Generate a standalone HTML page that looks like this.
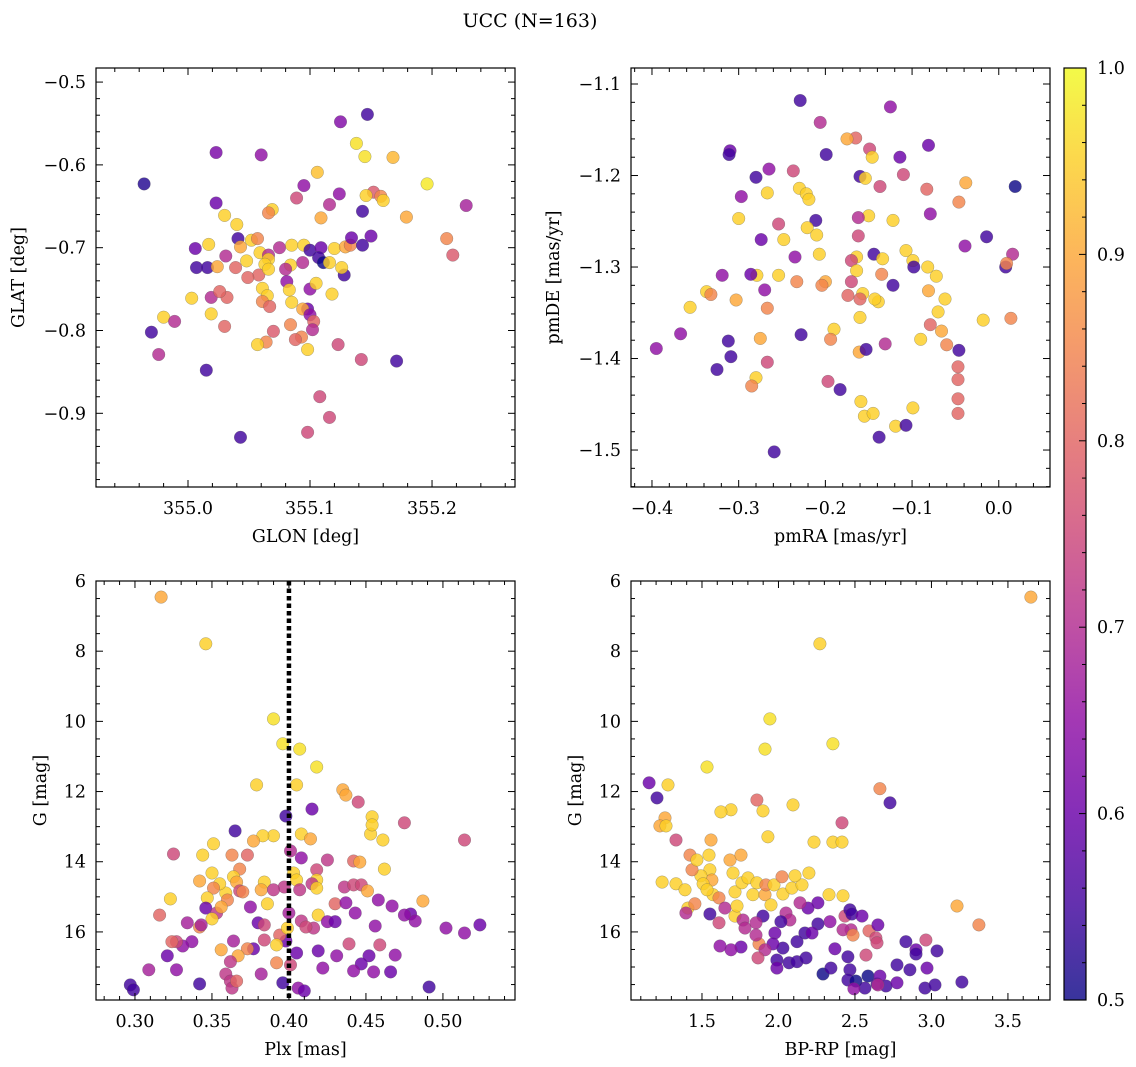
<!DOCTYPE html>
<html><head><meta charset="utf-8"><style>
html,body{margin:0;padding:0;background:#fff;}
svg{display:block;font-family:"DejaVu Serif","Liberation Serif",serif;}
</style></head><body>
<svg id="fig" width="1136" height="1067" viewBox="0 0 1136 1067" xmlns="http://www.w3.org/2000/svg">
<rect width="1136" height="1067" fill="#fff"/>
<text x="530" y="27" text-anchor="middle" font-size="19">UCC (N=163)</text>
</svg>
<script>
// ---- Panel 1: GLON / GLAT ----
const glon=[354.964,355.023,355.060,355.125,355.147,355.138,355.145,355.168,355.196,355.228,355.212,355.217,355.152,355.146,355.158,355.143,355.160,355.179,355.106,355.095,355.124,355.116,355.109,355.089,355.069,355.066,355.030,355.023,355.040,355.017,355.006,355.007,355.016,355.024,355.031,355.041,355.043,355.052,355.057,355.039,355.048,355.059,355.066,355.075,355.085,355.095,355.100,355.109,355.120,355.129,355.133,355.143,355.107,355.111,355.116,355.094,355.084,355.066,355.063,355.058,355.066,355.080,355.049,355.061,355.065,355.061,355.081,355.083,355.085,355.100,355.105,355.128,355.118,355.098,355.094,355.100,355.103,355.084,355.102,355.093,355.088,355.067,355.070,355.064,355.057,355.032,355.030,355.019,355.019,355.003,354.980,354.989,354.970,354.976,355.015,355.043,355.098,355.123,355.142,355.171,355.108,355.116,355.098,355.150,355.134,355.126,355.026];
const glat=[-0.623,-0.585,-0.588,-0.548,-0.539,-0.574,-0.590,-0.591,-0.623,-0.649,-0.689,-0.709,-0.633,-0.637,-0.638,-0.656,-0.643,-0.663,-0.609,-0.625,-0.635,-0.648,-0.664,-0.640,-0.654,-0.658,-0.661,-0.646,-0.672,-0.696,-0.701,-0.724,-0.724,-0.723,-0.710,-0.689,-0.699,-0.691,-0.689,-0.724,-0.716,-0.706,-0.709,-0.700,-0.697,-0.697,-0.703,-0.700,-0.701,-0.699,-0.697,-0.697,-0.712,-0.718,-0.718,-0.718,-0.721,-0.714,-0.720,-0.733,-0.726,-0.726,-0.736,-0.749,-0.758,-0.765,-0.741,-0.751,-0.766,-0.750,-0.743,-0.733,-0.756,-0.774,-0.774,-0.781,-0.789,-0.793,-0.799,-0.808,-0.811,-0.771,-0.801,-0.814,-0.817,-0.760,-0.795,-0.780,-0.760,-0.761,-0.784,-0.789,-0.802,-0.829,-0.848,-0.929,-0.823,-0.817,-0.835,-0.837,-0.880,-0.905,-0.923,-0.686,-0.688,-0.724,-0.753];
const prob1=[.52,.62,.65,.63,.55,.97,.97,.92,.98,.68,.85,.78,.78,.95,.85,.55,.95,.9,.93,.65,.65,.7,.9,.75,.95,.85,.95,.6,.95,.95,.6,.55,.55,.9,.7,.55,.9,.95,.85,.8,.95,.95,.7,.7,.95,.95,.55,.6,.95,.9,.85,.55,.55,.5,.95,.7,.95,.95,.95,.8,.95,.7,.8,.95,.95,.85,.65,.95,.95,.65,.95,.55,.95,.6,.9,.65,.8,.85,.7,.85,.8,.8,.78,.85,.95,.8,.8,.95,.7,.95,.95,.7,.55,.7,.55,.55,.95,.75,.75,.55,.75,.75,.75,.6,.6,.95,.8];
// ---- Panel 2: pmRA / pmDE ----
const pmra=[-0.229,-0.125,-0.310,-0.311,-0.199,-0.206,-0.165,-0.175,-0.149,-0.146,-0.081,-0.114,-0.160,-0.154,-0.137,-0.110,-0.083,-0.038,0.019,-0.280,-0.265,-0.237,-0.230,-0.222,-0.297,-0.267,-0.219,-0.211,-0.221,-0.210,-0.254,-0.150,-0.162,-0.079,-0.122,-0.046,-0.300,-0.274,-0.248,-0.162,-0.107,-0.144,-0.134,-0.164,-0.170,-0.164,-0.099,-0.098,-0.082,-0.039,-0.014,0.008,0.016,0.009,-0.235,-0.207,-0.254,-0.279,-0.286,-0.319,-0.270,-0.303,-0.267,-0.233,-0.200,-0.204,-0.170,-0.157,-0.122,-0.135,-0.139,-0.160,-0.174,-0.143,-0.072,-0.081,-0.062,-0.070,-0.079,-0.066,-0.160,-0.190,-0.194,-0.131,-0.090,-0.060,-0.046,-0.161,-0.153,-0.197,-0.183,-0.267,-0.280,-0.285,-0.228,-0.312,-0.309,-0.325,-0.395,-0.367,-0.356,-0.337,-0.332,-0.275,-0.159,-0.155,-0.145,-0.138,-0.119,-0.107,-0.099,-0.047,-0.047,-0.047,-0.047,-0.018,0.014,-0.259];
const pmde=[-1.118,-1.125,-1.173,-1.177,-1.177,-1.142,-1.159,-1.160,-1.171,-1.180,-1.167,-1.180,-1.201,-1.203,-1.212,-1.199,-1.215,-1.208,-1.212,-1.202,-1.193,-1.195,-1.214,-1.220,-1.223,-1.219,-1.226,-1.249,-1.257,-1.265,-1.253,-1.244,-1.246,-1.242,-1.249,-1.229,-1.247,-1.270,-1.270,-1.266,-1.282,-1.286,-1.291,-1.289,-1.293,-1.304,-1.293,-1.300,-1.300,-1.277,-1.267,-1.300,-1.286,-1.296,-1.289,-1.286,-1.309,-1.309,-1.308,-1.309,-1.325,-1.336,-1.345,-1.316,-1.316,-1.320,-1.316,-1.329,-1.320,-1.308,-1.338,-1.335,-1.331,-1.335,-1.310,-1.326,-1.335,-1.349,-1.363,-1.370,-1.355,-1.368,-1.379,-1.384,-1.379,-1.385,-1.391,-1.393,-1.390,-1.425,-1.434,-1.404,-1.421,-1.430,-1.374,-1.381,-1.398,-1.412,-1.389,-1.373,-1.344,-1.327,-1.330,-1.378,-1.447,-1.463,-1.460,-1.486,-1.474,-1.473,-1.454,-1.409,-1.423,-1.444,-1.460,-1.358,-1.356,-1.502];
const prob2=[.55,.65,.6,.55,.55,.7,.8,.9,.75,.95,.6,.6,.55,.95,.75,.75,.8,.9,.5,.55,.65,.75,.95,.95,.65,.95,.95,.55,.95,.95,.75,.95,.7,.65,.95,.85,.95,.6,.95,.75,.95,.55,.95,.95,.75,.95,.95,.55,.95,.65,.55,.55,.7,.85,.65,.95,.95,.95,.6,.65,.65,.9,.85,.85,.9,.85,.75,.95,.55,.85,.95,.8,.8,.95,.95,.9,.95,.95,.8,.9,.95,.95,.85,.7,.95,.85,.55,.9,.55,.75,.55,.75,.95,.85,.55,.55,.55,.55,.65,.65,.95,.95,.85,.9,.95,.95,.95,.55,.95,.55,.95,.8,.8,.8,.8,.95,.85,.55];
// ---- Panel 3: Plx / G ----
const plx=[0.317,0.346,0.390,0.396,0.407,0.418,0.379,0.405,0.365,0.398,0.415,0.435,0.437,0.445,0.454,0.453,0.454,0.475,0.408,0.414,0.390,0.383,0.377,0.351,0.325,0.363,0.373,0.344,0.442,0.446,0.462,0.461,0.401,0.408,0.425,0.418,0.403,0.405,0.418,0.415,0.397,0.342,0.350,0.368,0.364,0.384,0.382,0.390,0.366,0.368,0.370,0.359,0.355,0.351,0.347,0.360,0.323,0.346,0.353,0.356,0.350,0.316,0.334,0.342,0.380,0.384,0.375,0.386,0.407,0.418,0.436,0.442,0.447,0.451,0.458,0.467,0.487,0.479,0.482,0.430,0.437,0.443,0.419,0.416,0.425,0.430,0.408,0.411,0.502,0.514,0.524,0.514,0.456,0.459,0.475,0.469,0.452,0.447,0.439,0.431,0.442,0.455,0.466,0.491,0.422,0.419,0.405,0.401,0.406,0.410,0.396,0.398,0.394,0.384,0.377,0.364,0.356,0.373,0.367,0.362,0.359,0.362,0.363,0.366,0.342,0.327,0.321,0.337,0.331,0.327,0.324,0.309,0.297,0.299,0.343,0.382,0.392,0.392,0.400,0.399];
const gmag3=[6.46,7.79,9.93,10.64,10.79,11.30,11.81,11.81,13.12,12.70,12.50,11.95,12.10,12.30,12.72,13.21,12.95,12.89,13.21,13.35,13.26,13.26,13.41,13.49,13.78,13.81,13.81,13.81,13.98,14.01,14.21,13.38,13.69,13.89,13.95,14.23,14.32,14.52,14.52,14.63,14.72,14.55,14.32,14.21,14.43,14.58,14.80,14.80,14.58,14.83,14.86,14.89,14.63,14.75,15.03,15.09,15.06,15.32,15.46,15.29,15.63,15.52,15.74,15.86,15.74,15.80,15.29,15.20,14.80,14.75,14.72,14.66,14.66,14.83,15.09,15.26,15.12,15.49,15.69,15.20,15.17,15.46,15.52,15.89,15.71,15.71,15.69,15.86,15.89,16.03,15.80,13.38,15.83,16.37,15.52,16.66,16.68,16.91,16.34,16.68,17.11,17.14,17.14,17.57,17.03,16.54,16.60,16.94,17.60,17.68,17.45,16.26,16.09,16.23,16.48,16.26,16.51,16.48,16.68,16.85,17.20,17.40,17.60,17.40,17.48,17.08,16.68,16.28,16.40,16.28,16.28,17.08,17.51,17.65,15.80,17.20,16.88,16.37,15.46,15.89];
const prob3=[.9,.95,.97,.97,.97,.97,.95,.95,.55,.55,.6,.9,.9,.75,.95,.95,.95,.75,.95,.9,.95,.95,.9,.95,.75,.85,.8,.95,.8,.9,.95,.95,.7,.65,.72,.75,.95,.95,.95,.72,.72,.9,.95,.85,.95,.95,.9,.72,.9,.75,.85,.95,.95,.85,.95,.85,.95,.6,.72,.9,.95,.8,.68,.85,.6,.75,.65,.95,.72,.95,.72,.75,.75,.9,.65,.65,.9,.6,.65,.8,.65,.65,.95,.72,.65,.6,.72,.75,.65,.65,.6,.75,.65,.75,.65,.65,.6,.6,.75,.65,.65,.65,.6,.55,.65,.6,.6,.75,.65,.6,.55,.6,.8,.75,.6,.68,.9,.85,.9,.72,.72,.72,.72,.8,.55,.65,.6,.65,.65,.75,.8,.68,.55,.55,.68,.68,.85,.95,.68,.95];
// ---- Panel 4: BP-RP / G ----
const bprp=[3.650,2.271,1.944,1.912,2.356,1.533,1.154,1.278,1.206,1.258,1.225,1.265,1.859,1.899,1.690,1.624,2.095,1.931,2.663,2.729,2.415,2.232,2.356,2.415,1.559,1.330,1.422,1.546,1.683,1.755,1.552,1.565,1.493,1.435,1.467,1.507,1.572,1.533,1.330,1.239,1.389,1.408,1.454,1.395,1.552,1.611,1.611,1.650,1.716,1.729,1.716,1.703,1.761,1.801,1.859,1.833,1.912,1.918,1.971,1.951,2.029,2.088,2.154,2.108,2.023,2.199,2.330,2.258,2.422,2.193,2.141,2.435,2.467,2.474,2.337,2.258,2.422,2.487,2.592,2.637,2.644,2.480,2.650,2.546,2.049,2.075,2.016,1.899,1.768,1.781,1.853,1.977,2.173,2.219,2.121,2.029,1.964,1.873,1.853,1.912,1.866,1.990,2.069,2.121,2.180,1.990,1.755,1.690,1.618,2.369,2.454,2.572,2.585,2.467,2.291,2.343,2.454,2.506,2.565,2.644,2.703,2.833,2.663,2.775,2.859,2.899,2.958,3.023,3.036,2.899,2.971,2.775,2.493,2.650,3.199,3.167,3.310,2.964];
const gmag4=[6.46,7.79,9.93,10.79,10.64,11.30,11.75,11.81,12.18,12.75,12.98,12.98,12.24,12.55,12.52,12.58,12.38,13.29,11.92,12.32,12.89,13.44,13.44,13.44,13.38,13.38,13.81,13.81,13.95,13.81,14.23,14.52,14.40,14.23,13.95,14.63,14.94,14.80,14.63,14.58,14.80,15.32,15.20,15.46,15.49,15.74,15.03,15.32,15.55,15.26,14.86,14.32,14.60,14.46,14.60,14.94,14.94,14.66,14.66,15.23,14.92,14.75,14.66,14.40,14.43,14.32,14.94,15.17,14.97,15.32,15.17,15.55,15.37,15.94,15.71,15.77,15.94,16.09,15.97,16.17,16.31,15.49,15.80,15.55,15.46,15.66,15.71,15.55,15.66,15.89,15.74,16.03,16.03,16.03,16.28,16.46,16.34,16.34,16.09,16.51,16.74,16.80,16.88,16.85,16.74,17.03,16.43,16.51,16.40,16.48,16.71,16.66,17.26,17.08,17.20,17.03,17.37,17.40,17.60,17.48,17.54,16.28,17.26,16.94,17.08,16.51,17.60,17.51,16.54,16.63,17.03,17.45,17.62,17.51,17.43,15.26,15.80,16.23];
const prob4=[.9,.95,.97,.97,.97,.97,.6,.95,.55,.9,.9,.95,.8,.95,.95,.95,.95,.95,.85,.55,.75,.95,.95,.95,.9,.75,.85,.95,.9,.9,.95,.9,.95,.85,.95,.95,.95,.95,.95,.95,.95,.95,.85,.7,.55,.75,.85,.7,.95,.95,.95,.95,.95,.95,.95,.95,.9,.85,.95,.95,.95,.95,.95,.95,.85,.95,.95,.6,.95,.6,.7,.75,.55,.7,.65,.55,.7,.85,.8,.75,.75,.55,.6,.6,.7,.7,.55,.55,.7,.7,.7,.6,.55,.6,.55,.55,.6,.85,.7,.7,.75,.55,.55,.55,.55,.6,.6,.65,.65,.6,.55,.75,.5,.55,.5,.55,.55,.5,.55,.55,.55,.55,.6,.55,.55,.6,.55,.55,.55,.55,.6,.6,.65,.7,.55,.9,.85,.75];
// tick labels
const ticks1x=[355.0,355.1,355.2], ticks1y=[-0.5,-0.6,-0.7,-0.8,-0.9];
const ticks2x=[-0.4,-0.3,-0.2,-0.1,0.0], ticks2y=[-1.1,-1.2,-1.3,-1.4,-1.5];
const ticks3x=[0.30,0.35,0.40,0.45,0.50], ticksG=[6,8,10,12,14,16];
const ticks4x=[1.5,2.0,2.5,3.0,3.5], ticksCb=[0.5,0.6,0.7,0.8,0.9,1.0];
const plxMean=[0.40];

const NS='http://www.w3.org/2000/svg';
const svg=document.getElementById('fig');
const FS=17.5;
function mk(tag,attrs,parent){const e=document.createElementNS(NS,tag);for(const k in attrs)e.setAttribute(k,attrs[k]);(parent||svg).appendChild(e);return e;}
const stops=[[13,8,135],[65,4,157],[106,0,168],[143,13,164],[177,42,144],[204,71,120],[225,100,98],[242,132,75],[252,166,54],[252,206,37],[240,249,33]];
function plasma(t){t=Math.max(0,Math.min(1,t))*10;const i=Math.min(9,Math.floor(t)),f=t-i;const a=stops[i],b=stops[i+1];return 'rgb('+a.map((v,k)=>Math.round(v+(b[k]-v)*f)).join(',')+')';}
function cval(p){return plasma((p-0.5)/0.5);}
function fmt(v,d){const s=Math.abs(v).toFixed(d);return (v<-1e-9?'\u2212':'')+s;}

function panel(o){
  const g=mk('g',{});
  
  
  const sx=v=>o.x0+(v-o.xd[0])/(o.xd[1]-o.xd[0])*(o.x1-o.x0);
  const sy=v=>o.y0+(v-o.yd[0])/(o.yd[1]-o.yd[0])*(o.y1-o.y0);
  const clipId='c'+o.name;
  const cp=mk('clipPath',{id:clipId},g);mk('rect',{x:o.x0,y:o.y0,width:o.x1-o.x0,height:o.y1-o.y0},cp);
  const pts=mk('g',{'clip-path':'url(#'+clipId+')'},g);
  
  
  for(let i=0;i<o.xs.length;i++){
    const c=mk('circle',{cx:sx(o.xs[i]).toFixed(1),cy:sy(o.ys[i]).toFixed(1),r:6.3,fill:cval(o.cs[i]),'fill-opacity':0.82,stroke:'#555','stroke-opacity':0.5,'stroke-width':0.5},pts);
    
    
  }
  if(o.vline){for(const v of o.vline){const l=mk('line',{x1:sx(v),x2:sx(v),y1:o.y0,y2:o.y1,stroke:'#000','stroke-width':4.5,'stroke-dasharray':'4.5 3'},g);
    
    }}
  const tk=mk('g',{stroke:'#000','stroke-width':1},g);
  const lo=(a,b)=>Math.min(a,b),hi=(a,b)=>Math.max(a,b);
  const xl=lo(o.xd[0],o.xd[1]),xh=hi(o.xd[0],o.xd[1]),yl=lo(o.yd[0],o.yd[1]),yh=hi(o.yd[0],o.yd[1]);
  for(let v=Math.ceil(xl/o.xm-1e-6)*o.xm;v<=xh+1e-9;v+=o.xm){const X=sx(v);const maj=Math.abs(v/o.xM-Math.round(v/o.xM))<1e-4;const L=maj?7:4;
    mk('line',{x1:X,x2:X,y1:o.y1,y2:o.y1-L},tk);mk('line',{x1:X,x2:X,y1:o.y0,y2:o.y0+L},tk);}
  for(let v=Math.ceil(yl/o.ym-1e-6)*o.ym;v<=yh+1e-9;v+=o.ym){const Y=sy(v);const maj=Math.abs(v/o.yM-Math.round(v/o.yM))<1e-4;const L=maj?7:4;
    mk('line',{x1:o.x0,x2:o.x0+L,y1:Y,y2:Y},tk);mk('line',{x1:o.x1,x2:o.x1-L,y1:Y,y2:Y},tk);}
  const fr=mk('rect',{x:o.x0,y:o.y0,width:o.x1-o.x0,height:o.y1-o.y0,fill:'none',stroke:'#000','stroke-width':1.2},g);
  
  
  for(const v of o.tx){const t=mk('text',{x:sx(v),y:o.y1+27,'text-anchor':'middle','font-size':FS},g);t.textContent=fmt(v,o.xdp);
    
    }
  for(const v of o.ty){const t=mk('text',{x:o.x0-10,y:sy(v)+6,'text-anchor':'end','font-size':FS},g);t.textContent=fmt(v,o.ydp);
    
    }
  const xt=mk('text',{x:(o.x0+o.x1)/2,y:o.y1+55,'text-anchor':'middle','font-size':FS},g);xt.textContent=o.xlab;
  
  
  const yx=o.ylx,ym=(o.y0+o.y1)/2;
  const yt=mk('text',{x:yx,y:ym,'text-anchor':'middle','font-size':FS,transform:'rotate(-90 '+yx+' '+ym+')'},g);yt.textContent=o.ylab;
  
  
}
panel({name:'glon-glat-panel',x0:96,x1:515,y0:68,y1:487,xd:[354.9246,355.268],yd:[-0.483,-0.989],xs:glon,ys:glat,cs:prob1,xM:0.1,xm:0.02,yM:0.1,ym:0.02,tx:ticks1x,ty:ticks1y,xdp:1,ydp:1,xlab:'GLON [deg]',ylab:'GLAT [deg]',ylx:24});
panel({name:'pm-panel',x0:631,x1:1050,y0:68,y1:487,xd:[-0.4242,0.0591],yd:[-1.0825,-1.5404],xs:pmra,ys:pmde,cs:prob2,xM:0.1,xm:0.02,yM:0.1,ym:0.02,tx:ticks2x,ty:ticks2y,xdp:1,ydp:1,xlab:'pmRA [mas/yr]',ylab:'pmDE [mas/yr]',ylx:559});
panel({name:'plx-g-panel',x0:96,x1:515,y0:581,y1:1000,xd:[0.2747,0.5468],yd:[6.0,17.94],xs:plx,ys:gmag3,cs:prob3,xM:0.05,xm:0.01,yM:2,ym:0.5,tx:ticks3x,ty:ticksG,xdp:2,ydp:0,xlab:'Plx [mas]',ylab:'G [mag]',ylx:46,vline:plxMean});
panel({name:'cmd-panel',x0:631,x1:1050,y0:581,y1:1000,xd:[1.036,3.775],yd:[6.0,17.94],xs:bprp,ys:gmag4,cs:prob4,xM:0.5,xm:0.1,yM:2,ym:0.5,tx:ticks4x,ty:ticksG,xdp:1,ydp:0,xlab:'BP-RP [mag]',ylab:'G [mag]',ylx:581});

(function(){
  const x0=1064,x1=1086,y0=68,y1=1000;
  const g=mk('g',{});
  
  
  const defs=mk('defs',{},g);const lg=mk('linearGradient',{id:'cbg',x1:0,y1:1,x2:0,y2:0},defs);
  for(let i=0;i<=10;i++)mk('stop',{offset:i/10,'stop-color':plasma(i/10)},lg);
  mk('rect',{x:x0,y:y0,width:x1-x0,height:y1-y0,fill:'url(#cbg)','fill-opacity':0.82},g);
  const sc=v=>y1-(v-0.5)/0.5*(y1-y0);
  for(let k=0;k<=25;k++){const v=0.5+k*0.02;const Y=sc(v);const maj=k%5===0;mk('line',{x1:x1,x2:x1-(maj?7:4),y1:Y,y2:Y,stroke:'#000','stroke-width':1},g);}
  mk('rect',{x:x0,y:y0,width:x1-x0,height:y1-y0,fill:'none',stroke:'#000','stroke-width':1.2},g);
  for(const v of ticksCb){const t=mk('text',{x:x1+11,y:sc(v)+6,'font-size':FS},g);t.textContent=v.toFixed(1);
    
    }
})();
</script>
</body></html>
